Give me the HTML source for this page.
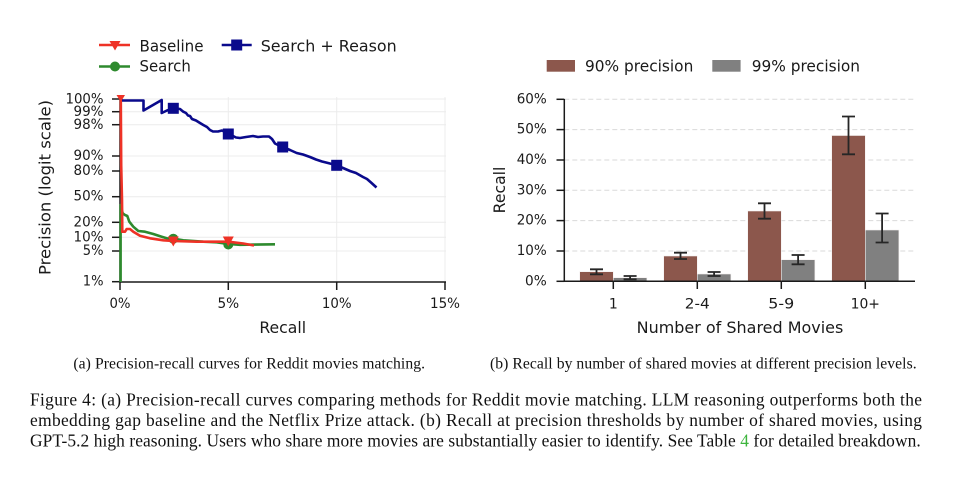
<!DOCTYPE html>
<html><head><meta charset="utf-8"><style>
html,body{margin:0;padding:0;background:#fff;}
svg{display:block;}
.t{font-family:"DejaVu Sans","Liberation Sans",sans-serif;fill:#1a1a1a;}
.s{font-family:"Liberation Serif","DejaVu Serif",serif;fill:#111;}
</style></head><body>
<svg width="960" height="477" viewBox="0 0 960 477" xmlns="http://www.w3.org/2000/svg">
<rect width="960" height="477" fill="#fff"/>

<!-- ========== LEFT CHART ========== -->
<g stroke="#ececec" stroke-width="1">
  <line x1="120" y1="99" x2="446" y2="99"/>
  <line x1="120" y1="111.7" x2="446" y2="111.7"/>
  <line x1="120" y1="124.7" x2="446" y2="124.7"/>
  <line x1="120" y1="156" x2="446" y2="156"/>
  <line x1="120" y1="171" x2="446" y2="171"/>
  <line x1="120" y1="196.7" x2="446" y2="196.7"/>
  <line x1="120" y1="222.3" x2="446" y2="222.3"/>
  <line x1="120" y1="237.3" x2="446" y2="237.3"/>
  <line x1="120" y1="251" x2="446" y2="251"/>
  <line x1="228.3" y1="97" x2="228.3" y2="282"/>
  <line x1="336.7" y1="97" x2="336.7" y2="282"/>
  <line x1="445" y1="97" x2="445" y2="282"/>
</g>
<g stroke="#1a1a1a" stroke-width="1.5" fill="none">
  <line x1="120" y1="97" x2="120" y2="282.5"/>
  <line x1="119.3" y1="282" x2="446" y2="282"/>
  <line x1="112" y1="99" x2="120" y2="99"/>
  <line x1="112" y1="111.7" x2="120" y2="111.7"/>
  <line x1="112" y1="124.7" x2="120" y2="124.7"/>
  <line x1="112" y1="156" x2="120" y2="156"/>
  <line x1="112" y1="171" x2="120" y2="171"/>
  <line x1="112" y1="196.7" x2="120" y2="196.7"/>
  <line x1="112" y1="222.3" x2="120" y2="222.3"/>
  <line x1="112" y1="237.3" x2="120" y2="237.3"/>
  <line x1="112" y1="251" x2="120" y2="251"/>
  <line x1="112" y1="281.7" x2="120" y2="281.7"/>
  <line x1="120" y1="282" x2="120" y2="290"/>
  <line x1="228.3" y1="282" x2="228.3" y2="290"/>
  <line x1="336.7" y1="282" x2="336.7" y2="290"/>
  <line x1="445" y1="282" x2="445" y2="290"/>
</g>
<g class="t" font-size="14" text-anchor="end" dominant-baseline="central" lengthAdjust="spacingAndGlyphs">
  <text x="103.5" y="99.5" textLength="38" lengthAdjust="spacingAndGlyphs">100%</text>
  <text x="103.5" y="112" textLength="30" lengthAdjust="spacingAndGlyphs">99%</text>
  <text x="103.5" y="125" textLength="30" lengthAdjust="spacingAndGlyphs">98%</text>
  <text x="103.5" y="156" textLength="30" lengthAdjust="spacingAndGlyphs">90%</text>
  <text x="103.5" y="171" textLength="30" lengthAdjust="spacingAndGlyphs">80%</text>
  <text x="103.5" y="196.7" textLength="30" lengthAdjust="spacingAndGlyphs">50%</text>
  <text x="103.5" y="222.3" textLength="30" lengthAdjust="spacingAndGlyphs">20%</text>
  <text x="103.5" y="237.3" textLength="30" lengthAdjust="spacingAndGlyphs">10%</text>
  <text x="103.5" y="251" textLength="20.7" lengthAdjust="spacingAndGlyphs">5%</text>
  <text x="103.5" y="281.7" textLength="20.7" lengthAdjust="spacingAndGlyphs">1%</text>
</g>
<g class="t" font-size="14" text-anchor="middle" dominant-baseline="central">
  <text x="120" y="304" textLength="21" lengthAdjust="spacingAndGlyphs">0%</text>
  <text x="228.3" y="304" textLength="21.7" lengthAdjust="spacingAndGlyphs">5%</text>
  <text x="336.7" y="304" textLength="29.7" lengthAdjust="spacingAndGlyphs">10%</text>
  <text x="445" y="304" textLength="30" lengthAdjust="spacingAndGlyphs">15%</text>
</g>
<text class="t" font-size="16" text-anchor="middle" x="282.7" y="333" textLength="46.7" lengthAdjust="spacingAndGlyphs">Recall</text>
<text class="t" font-size="16" text-anchor="middle" transform="translate(50.5,187.5) rotate(-90)" textLength="175" lengthAdjust="spacingAndGlyphs">Precision (logit scale)</text>

<!-- Search (green) -->
<polyline fill="none" stroke="#2e8a2e" stroke-width="2.6" stroke-linejoin="round" points="120.6,282 120.6,205 122.7,213.3 125,215 127.3,216 129.3,221.7 133.3,226.7 138.3,231 145,231.7 153.3,234 161.7,236.7 166.7,238.3 173.3,238.7 183.3,240.3 203.3,241.7 216.7,242.3 228.3,244 240,244.8 255,244.6 275,244.3"/>
<circle cx="173.3" cy="238.7" r="5" fill="#2e8a2e"/>
<circle cx="228.3" cy="244.5" r="5" fill="#2e8a2e"/>
<!-- Baseline (red) -->
<polyline fill="none" stroke="#ee3226" stroke-width="2.6" stroke-linejoin="round" points="120.8,98 121.2,165 122,200 122.3,231.7 125,231.7 126.7,229 130,229 133.3,231.7 140,235.7 150,238.3 163.3,240.3 173.3,241 196.7,241.7 228.3,241.7 243.3,243.5 254,245.5"/>
<polygon points="116.5,95 125,95 120.8,102" fill="#ee3226"/>
<polygon points="167.8,236.5 178.8,236.5 173.3,246.5" fill="#ee3226"/>
<polygon points="222.8,236.5 233.8,236.5 228.3,246.5" fill="#ee3226"/>
<!-- Search + Reason (navy) -->
<polyline fill="none" stroke="#0a0a8c" stroke-width="2.6" stroke-linejoin="round" points="122,100.5 143.5,100.5 143.5,110.5 161.7,100 161.7,113 167,110.5 173.3,108.3 180,109 183.3,111.7 186,113 188,115.5 190,116 192,119 196,120.5 200,123 203.3,125 207,127 210,130 213,131.5 218,131.5 222,130.5 225,132 228.3,134 232,135.5 236,137.5 240,138 246,137 253,136 258,137 263,136.5 269,136.5 272,139 275,143.5 279,145.5 282.7,147 290,150 296.7,153 303,154.5 310,157 316,159.5 322,161.5 328,163 336.7,165.3 343,168 350,171 356,173 363,177 367,179 371,182.5 376.5,187.5"/>
<rect x="167.8" y="102.8" width="11" height="11" fill="#0a0a8c"/>
<rect x="222.8" y="128.5" width="11" height="11" fill="#0a0a8c"/>
<rect x="277.2" y="141.5" width="11" height="11" fill="#0a0a8c"/>
<rect x="331.2" y="159.8" width="11" height="11" fill="#0a0a8c"/>

<!-- left legend -->
<line x1="99" y1="45" x2="130" y2="45" stroke="#ee3226" stroke-width="2.6"/>
<polygon points="109.5,41 120.5,41 115,50.5" fill="#ee3226"/>
<text class="t" font-size="16" x="139.5" y="51.5" textLength="64" lengthAdjust="spacingAndGlyphs">Baseline</text>
<line x1="221.7" y1="45" x2="251.7" y2="45" stroke="#0a0a8c" stroke-width="2.6"/>
<rect x="231.2" y="39.5" width="11" height="11" fill="#0a0a8c"/>
<text class="t" font-size="16" x="260.7" y="51.5" textLength="136" lengthAdjust="spacingAndGlyphs">Search + Reason</text>
<line x1="99" y1="66.5" x2="130" y2="66.5" stroke="#2e8a2e" stroke-width="2.6"/>
<circle cx="115" cy="66.5" r="5" fill="#2e8a2e"/>
<text class="t" font-size="16" x="139.5" y="71.5" textLength="51.3" lengthAdjust="spacingAndGlyphs">Search</text>

<!-- ========== RIGHT CHART ========== -->
<g stroke="#dadada" stroke-width="1" stroke-dasharray="5,3">
  <line x1="564.3" y1="251" x2="915" y2="251"/>
  <line x1="564.3" y1="220.6" x2="915" y2="220.6"/>
  <line x1="564.3" y1="190.3" x2="915" y2="190.3"/>
  <line x1="564.3" y1="160" x2="915" y2="160"/>
  <line x1="564.3" y1="129.6" x2="915" y2="129.6"/>
  <line x1="564.3" y1="99.3" x2="915" y2="99.3"/>
</g>
<g stroke="#f2eeee" stroke-width="0.6">
  <rect x="579.7" y="271.7" width="33.6" height="9.6" fill="#8c574c"/>
  <rect x="613.3" y="277.7" width="33.6" height="3.6" fill="#808080"/>
  <rect x="663.7" y="256" width="33.6" height="25.3" fill="#8c574c"/>
  <rect x="697.3" y="274" width="33.6" height="7.3" fill="#808080"/>
  <rect x="747.7" y="211" width="33.6" height="70.3" fill="#8c574c"/>
  <rect x="781.3" y="259.7" width="33.6" height="21.6" fill="#808080"/>
  <rect x="831.7" y="135.5" width="33.6" height="145.8" fill="#8c574c"/>
  <rect x="865.3" y="230" width="33.6" height="51.3" fill="#808080"/>
</g>
<g stroke="#262626" stroke-width="1.8" fill="none">
  <path d="M596.5,269.3V274.3M590,269.3H603M590,274.3H603"/>
  <path d="M630.1,276V279.3M623.6,276H636.6M623.6,279.3H636.6"/>
  <path d="M680.5,252.7V259M674,252.7H687M674,259H687"/>
  <path d="M714.1,272V276M707.6,272H720.6M707.6,276H720.6"/>
  <path d="M764.5,203.3V218.7M758,203.3H771M758,218.7H771"/>
  <path d="M798.1,255V264.3M791.6,255H804.6M791.6,264.3H804.6"/>
  <path d="M848.5,116.5V154.3M842,116.5H855M842,154.3H855"/>
  <path d="M882.1,213.5V242.5M875.6,213.5H888.6M875.6,242.5H888.6"/>
</g>
<g stroke="#1a1a1a" stroke-width="1.5" fill="none">
  <line x1="564.3" y1="99" x2="564.3" y2="282"/>
  <line x1="563.6" y1="281.3" x2="915" y2="281.3"/>
  <line x1="556.5" y1="281.3" x2="564.3" y2="281.3"/>
  <line x1="556.5" y1="251" x2="564.3" y2="251"/>
  <line x1="556.5" y1="220.6" x2="564.3" y2="220.6"/>
  <line x1="556.5" y1="190.3" x2="564.3" y2="190.3"/>
  <line x1="556.5" y1="160" x2="564.3" y2="160"/>
  <line x1="556.5" y1="129.6" x2="564.3" y2="129.6"/>
  <line x1="556.5" y1="99.3" x2="564.3" y2="99.3"/>
  <line x1="613.3" y1="281.3" x2="613.3" y2="289"/>
  <line x1="697.3" y1="281.3" x2="697.3" y2="289"/>
  <line x1="781.3" y1="281.3" x2="781.3" y2="289"/>
  <line x1="865.3" y1="281.3" x2="865.3" y2="289"/>
</g>
<g class="t" font-size="14" text-anchor="end" dominant-baseline="central">
  <text x="546.7" y="281.3" textLength="21.7" lengthAdjust="spacingAndGlyphs">0%</text>
  <text x="546.7" y="251" textLength="30" lengthAdjust="spacingAndGlyphs">10%</text>
  <text x="546.7" y="220.6" textLength="30" lengthAdjust="spacingAndGlyphs">20%</text>
  <text x="546.7" y="190.3" textLength="30" lengthAdjust="spacingAndGlyphs">30%</text>
  <text x="546.7" y="160" textLength="30" lengthAdjust="spacingAndGlyphs">40%</text>
  <text x="546.7" y="129.6" textLength="30" lengthAdjust="spacingAndGlyphs">50%</text>
  <text x="546.7" y="99.3" textLength="30" lengthAdjust="spacingAndGlyphs">60%</text>
</g>
<g class="t" font-size="14" text-anchor="middle" dominant-baseline="central">
  <text x="613.3" y="304.3">1</text>
  <text x="697.3" y="304.3" textLength="25" lengthAdjust="spacingAndGlyphs">2-4</text>
  <text x="781.3" y="304.3" textLength="26" lengthAdjust="spacingAndGlyphs">5-9</text>
  <text x="865.3" y="304.3" textLength="29.3" lengthAdjust="spacingAndGlyphs">10+</text>
</g>
<text class="t" font-size="16" text-anchor="middle" x="740" y="333" textLength="206.7" lengthAdjust="spacingAndGlyphs">Number of Shared Movies</text>
<text class="t" font-size="16" text-anchor="middle" transform="translate(505,190) rotate(-90)" textLength="46.7" lengthAdjust="spacingAndGlyphs">Recall</text>

<rect x="546.7" y="60" width="28.3" height="11.7" fill="#8c574c"/>
<text class="t" font-size="16" x="585" y="71.5" textLength="108.3" lengthAdjust="spacingAndGlyphs">90% precision</text>
<rect x="712.3" y="60" width="28.3" height="11.7" fill="#808080"/>
<text class="t" font-size="16" x="751.7" y="71.5" textLength="108.3" lengthAdjust="spacingAndGlyphs">99% precision</text>

<!-- ========== CAPTIONS ========== -->
<text class="s" font-size="15.66" text-anchor="middle" x="249.2" y="368.5" textLength="351.7">(a) Precision-recall curves for Reddit movies matching.</text>
<text class="s" font-size="15.66" text-anchor="middle" x="703.3" y="368.5" textLength="426.7">(b) Recall by number of shared movies at different precision levels.</text>

<text class="s" font-size="17.4" x="30" y="405.5" textLength="892" lengthAdjust="spacing">Figure 4: (a) Precision-recall curves comparing methods for Reddit movie matching. LLM reasoning outperforms both the</text>
<text class="s" font-size="17.4" x="30" y="426.1" textLength="892" lengthAdjust="spacing">embedding gap baseline and the Netflix Prize attack. (b) Recall at precision thresholds by number of shared movies, using</text>
<text class="s" font-size="17.4" x="30" y="446.7" textLength="890.7" lengthAdjust="spacing">GPT-5.2 high reasoning. Users who share more movies are substantially easier to identify. See Table <tspan fill="#3cb43c">4</tspan> for detailed breakdown.</text>
</svg>
</body></html>
